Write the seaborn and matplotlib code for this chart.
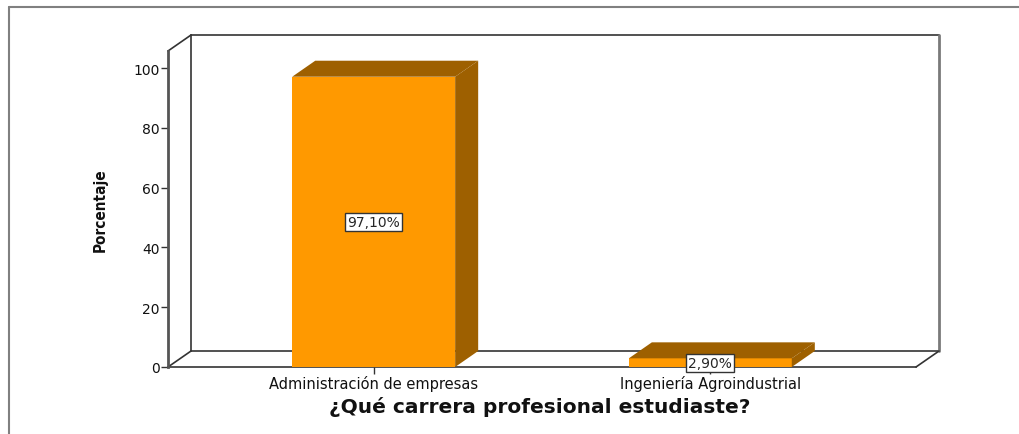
import matplotlib
matplotlib.use('Agg')
import matplotlib.pyplot as plt
from matplotlib.lines import Line2D
from matplotlib.patches import Polygon
import seaborn as sns
import pandas as pd

# Chart data
categories = ['Administración de empresas', 'Ingeniería Agroindustrial']
percentages = [97.1, 2.9]
value_labels = ['97,10%', '2,90%']
y_ticks = [0, 20, 40, 60, 80, 100]

data = pd.DataFrame({'Carrera': categories, 'Porcentaje': percentages})

sns.set_style('white')
plt.rcParams['font.family'] = ['DejaVu Sans']

fig = plt.figure(figsize=(10.19, 4.35), dpi=100)
W, H = 1019, 435
ax = fig.add_axes([168 / W, (H - 368) / H, 748 / W, 316 / H])

front = '#FF9900'
dark = '#9E6000'
sns.barplot(x='Carrera', y='Porcentaje', data=data, color=front, width=0.484,
            saturation=1, linewidth=0, ax=ax, zorder=3)

x_lo, x_hi = -0.611, 1.611
y_top = 105.7
ax.set_xlim(x_lo, x_hi)
ax.set_ylim(0, y_top)

# depth offset of the 3D effect, in data units
dx, dy = 0.0684, 5.35

# 3D faces for each bar
for p in ax.patches[:]:
    x0 = p.get_x()
    x1 = x0 + p.get_width()
    h = p.get_height()
    side = Polygon([(x1, 0), (x1 + dx, dy), (x1 + dx, h + dy), (x1, h)],
                   closed=True, facecolor=dark, edgecolor='none', zorder=3, clip_on=False)
    top = Polygon([(x0, h), (x0 + dx, h + dy), (x1 + dx, h + dy), (x1, h)],
                  closed=True, facecolor=dark, edgecolor='none', zorder=3, clip_on=False)
    ax.add_patch(side)
    ax.add_patch(top)

# back wall and floor outline
lc = '#333333'
kw = dict(color=lc, lw=1.2, clip_on=False, zorder=1)
ax.plot([x_lo + dx, x_hi + dx], [dy, dy], **kw)
ax.plot([x_lo + dx, x_lo + dx], [dy, y_top + dy], **kw)
ax.plot([x_lo + dx, x_hi + dx], [y_top + dy, y_top + dy], **kw)
ax.plot([x_hi + dx, x_hi + dx], [dy, y_top + dy], color='#7a7a7a', lw=2, clip_on=False, zorder=1)
ax.plot([x_lo, x_lo + dx], [0, dy], **kw)
ax.plot([x_lo, x_lo + dx], [y_top, y_top + dy], **kw)
ax.plot([x_hi, x_hi + dx], [0, dy], **kw)

for s in ['top', 'right']:
    ax.spines[s].set_visible(False)
ax.spines['left'].set_color('#555555')
ax.spines['left'].set_linewidth(2)
ax.spines['bottom'].set_color(lc)
ax.spines['bottom'].set_linewidth(1.2)
ax.spines['bottom'].set_zorder(2)

ax.set_yticks(y_ticks)
ax.tick_params(axis='y', direction='out', length=5, width=1, color='#333333',
               labelsize=10, pad=1, left=True)
ax.tick_params(axis='x', direction='out', length=5, width=1, color='#333333',
               labelsize=10.5, pad=1, bottom=True)
for lab in ax.get_xticklabels() + ax.get_yticklabels():
    lab.set_color('#111111')

# value labels in boxes
for i, (v, t) in enumerate(zip(percentages, value_labels)):
    ax.text(i, v / 2, t, ha='center', va='center', fontsize=10, zorder=5,
            bbox=dict(boxstyle='square,pad=0.15', facecolor='white', edgecolor='#333333', lw=1))

ax.set_ylabel('Porcentaje', fontsize=11, fontweight='bold', fontstretch='condensed',
              family=['DejaVu Sans'], color='#111111')
ax.yaxis.set_label_coords(-0.080, 0.5)
ax.set_xlabel('¿Qué carrera profesional estudiaste?', fontsize=14.5, fontweight='bold',
              family=['DejaVu Sans'], color='#111111')
ax.xaxis.set_label_coords(0.497, -0.092)

# outer frame
fig.add_artist(Line2D([9 / W, 1], [1 - 8 / H, 1 - 8 / H], color='#808080', lw=1.5))
fig.add_artist(Line2D([9 / W, 9 / W], [0, 1 - 8 / H], color='#808080', lw=1.5))

fig.savefig('out.png', dpi=100)
